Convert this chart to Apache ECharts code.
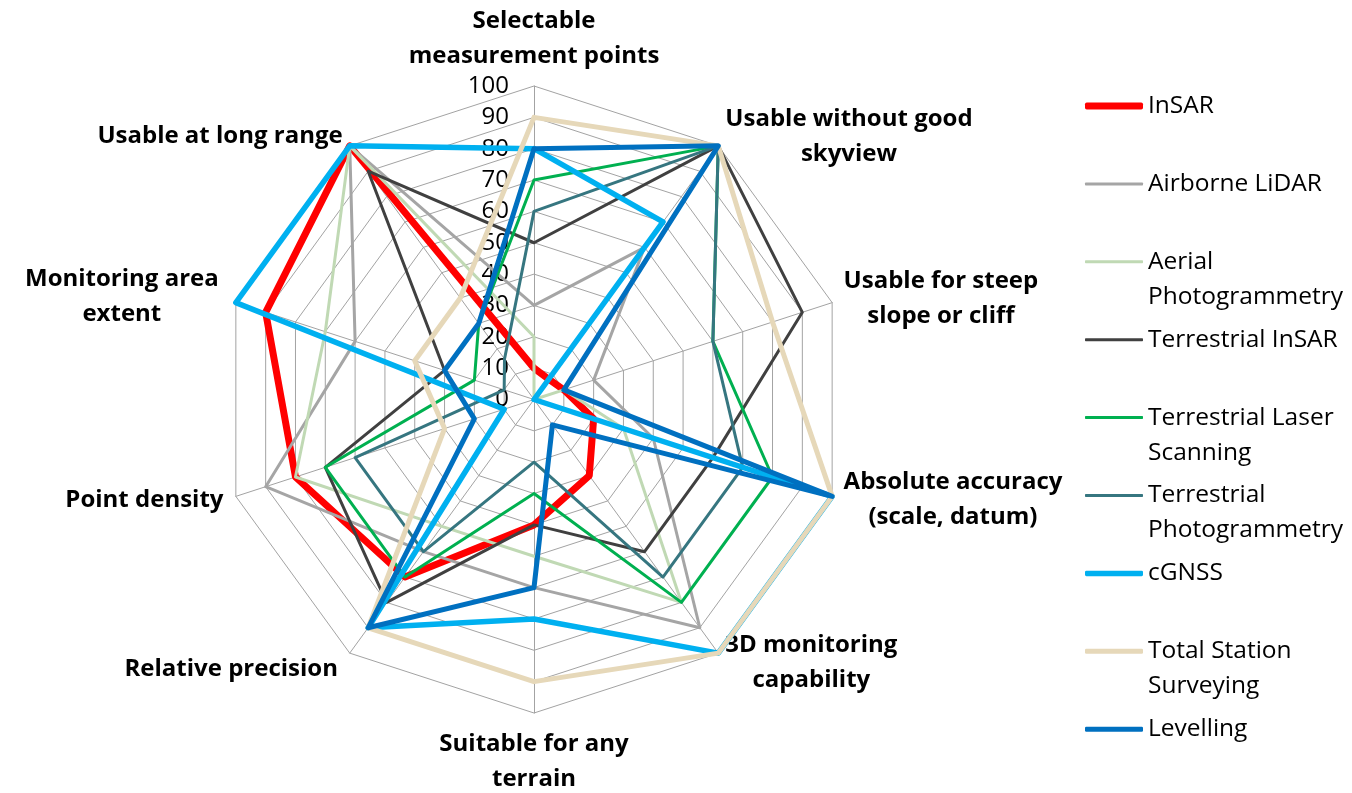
<!DOCTYPE html>
<html>
<head>
<meta charset="utf-8">
<title>Monitoring techniques comparison</title>
<script src="https://cdn.jsdelivr.net/npm/echarts@6/dist/echarts.min.js"></script>
<style>
  html, body { margin: 0; padding: 0; background: #ffffff; }
  #chart { width: 1352px; height: 793px; }
</style>
</head>
<body>
<div id="chart"></div>
<script>
// Criteria, listed clockwise starting from the top spoke
const categories = [
  'Selectable\nmeasurement points',
  'Usable without good\nskyview',
  'Usable for steep\nslope or cliff',
  'Absolute accuracy\n(scale, datum)',
  '3D monitoring\ncapability',
  'Suitable for any\nterrain',
  'Relative precision',
  'Point density',
  'Monitoring area\nextent',
  'Usable at long range'
];

// Radial scale ticks
const ticks = [0, 10, 20, 30, 40, 50, 60, 70, 80, 90, 100];

// Technique names and their legend labels
const techniques = ['InSAR', 'Airborne LiDAR', 'Aerial Photogrammetry', 'Terrestrial InSAR',
  'Terrestrial Laser Scanning', 'Terrestrial Photogrammetry', 'cGNSS', 'Total Station Surveying', 'Levelling'];
const legendLabels = ['InSAR', 'Airborne LiDAR', 'Aerial\nPhotogrammetry', 'Terrestrial InSAR',
  'Terrestrial Laser\nScanning', 'Terrestrial\nPhotogrammetry', 'cGNSS', 'Total Station\nSurveying', 'Levelling'];

// Scores per technique, same order as categories
const insar                 = [10,   8, 10,  20,  30, 40, 70, 80,  90, 100];
const airborneLidar         = [30,  60, 20,  40,  90, 60, 60, 90,  60, 100];
const aerialPhotogrammetry  = [20,   0, 10,  30,  80, 50, 50, 80,  70, 100];
const terrestrialInsar      = [50, 100, 90,  60,  60, 40, 80, 70,  30,  90];
const terrestrialLaser      = [70, 100, 60,  80,  80, 30, 70, 70,  20,  30];
const terrestrialPhoto      = [60, 100, 60,  70,  70, 20, 60, 60,  10,  16];
const cgnss                 = [80,  70,  0, 100, 100, 70, 90, 10, 100, 100];
const totalStation          = [90, 100, 80, 100, 100, 90, 90, 30,  40,  40];
const levelling             = [80, 100, 10, 100,  10, 60, 90, 20,  30,  30];

const values = [insar, airborneLidar, aerialPhotogrammetry, terrestrialInsar,
  terrestrialLaser, terrestrialPhoto, cgnss, totalStation, levelling];

// Styling per technique
const colors = ['#ff0000', '#a5a5a5', '#c0d9b4', '#404040', '#00b050', '#367680', '#00b0f0', '#e6d8b9', '#0070c0'];
const widths = [7, 3, 3, 3, 3, 3, 5.5, 5, 5];

// Extra spacing between the outer ring and a few of the criterion names
const nameGaps = [12, 12, 12, 12, 12, 14, 20, 13, 18, 12];

// ECharts lays out radar indicators counter-clockwise; walk the list the other way
const ecOrder = [0, 9, 8, 7, 6, 5, 4, 3, 2, 1];

const FONT = 'Open Sans';
const LINE_H = 35;

const indicator = ecOrder.map(function (ci) {
  const item = {
    name: categories[ci],
    min: ticks[0],
    max: ticks[ticks.length - 1],
    nameGap: nameGaps[ci]
  };
  if (ci === 0) {
    item.axisLabel = {
      show: true,
      showMinLabel: true,
      showMaxLabel: true,
      fontFamily: FONT,
      fontSize: 24,
      color: '#000000',
      margin: 25
    };
  }
  return item;
});

const series = techniques.map(function (name, i) {
  return {
    type: 'radar',
    name: name,
    symbol: 'none',
    z: 2 + i,
    itemStyle: { color: colors[i] },
    lineStyle: { color: colors[i], width: widths[i], join: 'round', cap: 'round' },
    emphasis: { disabled: true },
    data: [{ name: name, value: ecOrder.map(function (ci) { return values[i][ci]; }) }]
  };
});

// One legend block per technique so each row sits on its own slot,
// with the icon level with the first line of a wrapped label
const legendTop0 = 106;
const legendStep = 77.9;
const legends = techniques.map(function (name, i) {
  const twoLine = legendLabels[i].indexOf('\n') >= 0;
  const yc = legendTop0 + legendStep * i;
  return {
    orient: 'vertical',
    left: 1085,
    top: twoLine ? yc - LINE_H * 1.5 : yc - LINE_H / 2,
    padding: 0,
    itemGap: 0,
    icon: 'roundRect',
    itemWidth: 58,
    itemHeight: widths[i],
    selectedMode: false,
    // a blank leading line keeps the first real line beside the icon
    formatter: function () { return twoLine ? ' \n' + legendLabels[i] : legendLabels[i]; },
    textStyle: {
      fontFamily: FONT,
      fontSize: 24.5,
      lineHeight: LINE_H,
      color: '#000000'
    },
    data: [name]
  };
});

const chart = echarts.init(document.getElementById('chart'), null, { renderer: 'canvas' });
chart.setOption({
  backgroundColor: '#ffffff',
  animation: false,
  legend: legends,
  radar: {
    center: [534, 399.5],
    radius: 313.5,
    startAngle: 90,
    shape: 'polygon',
    splitNumber: ticks.length - 1,
    nameGap: 12,
    axisName: {
      color: '#000000',
      fontFamily: FONT,
      fontSize: 24,
      fontWeight: 'bold',
      lineHeight: LINE_H,
      formatter: function (name) {
        return name.split('\n').map(function (line) { return '{c|' + line + '}'; }).join('\n');
      },
      rich: {
        c: {
          align: 'center',
          color: '#000000',
          fontFamily: FONT,
          fontSize: 24,
          fontWeight: 'bold',
          lineHeight: LINE_H
        }
      }
    },
    axisLine: { show: true, lineStyle: { color: '#a3a3a3', width: 1 } },
    splitLine: { show: true, lineStyle: { color: '#a3a3a3', width: 1 } },
    splitArea: { show: false },
    axisTick: { show: false },
    axisLabel: { show: false },
    indicator: indicator
  },
  series: series
});
</script>
</body>
</html>
